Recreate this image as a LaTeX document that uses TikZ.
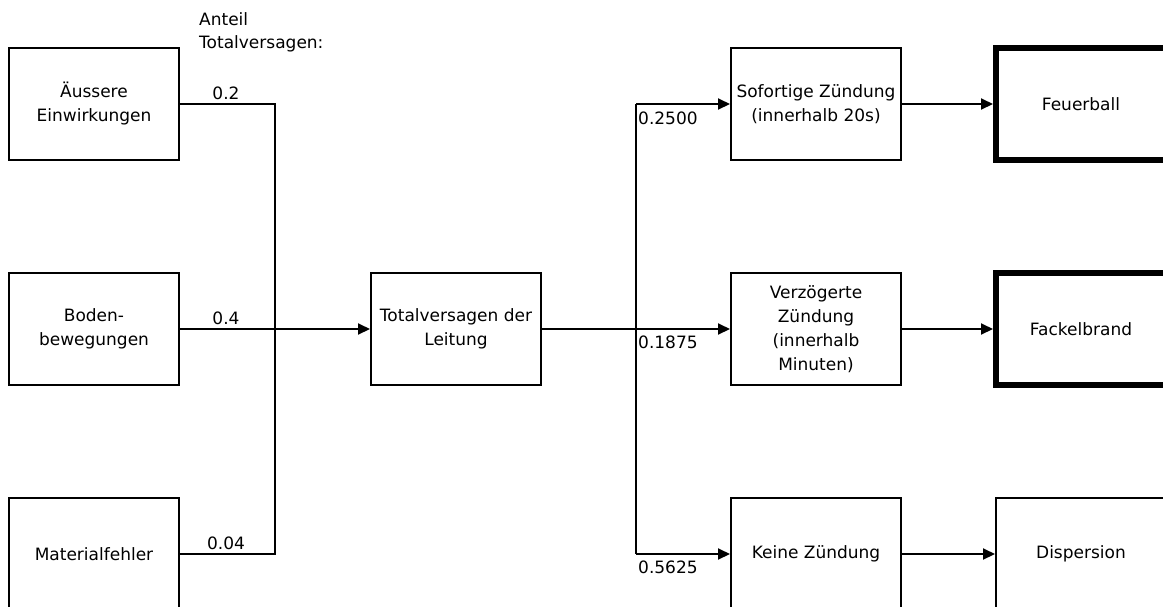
\documentclass[tikz,border=0pt]{standalone}
\usepackage{fontspec}
\setmainfont{DejaVu Sans}
\usetikzlibrary{arrows.meta}

\tikzset{
  box/.style={draw, line width=2pt, minimum width=170pt, minimum height=112pt,
              inner sep=0pt, align=center, font=\fontsize{17}{24}\selectfont},
  endbox/.style={box, line width=6pt},
  flow/.style={line width=2pt, -{Triangle[length=12pt,width=11pt]}},
  link/.style={line width=2pt},
  val/.style={inner sep=1pt, font=\fontsize{17}{20}\selectfont},
}

\begin{document}
\begin{tikzpicture}[x=1pt, y=-1pt]
  \useasboundingbox (0,0) rectangle (1163,606);
  \clip (0,0) rectangle (1163,606);

  % causes
  \node[box] (ext)  at (94,104) {Äussere\\Einwirkungen};
  \node[box] (soil) at (94,329) {Boden-\\bewegungen};
  \node[box] (mat)  at (94,554) {Materialfehler};

  % central event
  \node[box] (fail) at (456,329) {Totalversagen der\\Leitung};

  % ignition branches
  \node[box] (imm)  at (816,104) {Sofortige Zündung\\(innerhalb 20s)};
  \node[box] (del)  at (816,329) {Verzögerte\\Zündung\\(innerhalb\\Minuten)};
  \node[box] (none) at (816,554) {Keine Zündung};

  % consequences
  \node[endbox] (ball)  at (1081,104) {Feuerball};
  \node[endbox] (torch) at (1081,329) {Fackelbrand};
  \node[box]    (disp)  at (1081,554) {Dispersion};

  % collector and distributor junctions
  \coordinate (jl) at (275,329);
  \coordinate (jr) at (636,329);

  \draw[link] (ext.east) -| (jl);
  \draw[link] (mat.east) -| (jl);
  \draw[flow] (soil.east) -- (fail.west);

  \draw[link] (fail.east) -- (jr);
  \draw[flow] (jr |- imm.west) -- (imm.west);
  \draw[link] (jr |- imm.west) -- (jr |- none.west);
  \draw[flow] (jr) -- (del.west);
  \draw[flow] (jr |- none.west) -- (none.west);

  \draw[flow] (imm.east)  -- (ball.west);
  \draw[flow] (del.east)  -- (torch.west);
  \draw[flow] (none.east) -- (disp.west);

  % shares
  \node[val, anchor=north west, align=left, font=\fontsize{17}{23}\selectfont]
    (head) at (198,11) {Anteil\\Totalversagen:};
  \node[val, anchor=south] (p1) at (226,101) {0.2};
  \node[val, anchor=south] (p2) at (226,326) {0.4};
  \node[val, anchor=south] (p3) at (226,551) {0.04};
  \node[val, anchor=north west] (q1) at (637,111) {0.2500};
  \node[val, anchor=north west] (q2) at (637,335) {0.1875};
  \node[val, anchor=north west] (q3) at (637,560) {0.5625};
\end{tikzpicture}
\end{document}
